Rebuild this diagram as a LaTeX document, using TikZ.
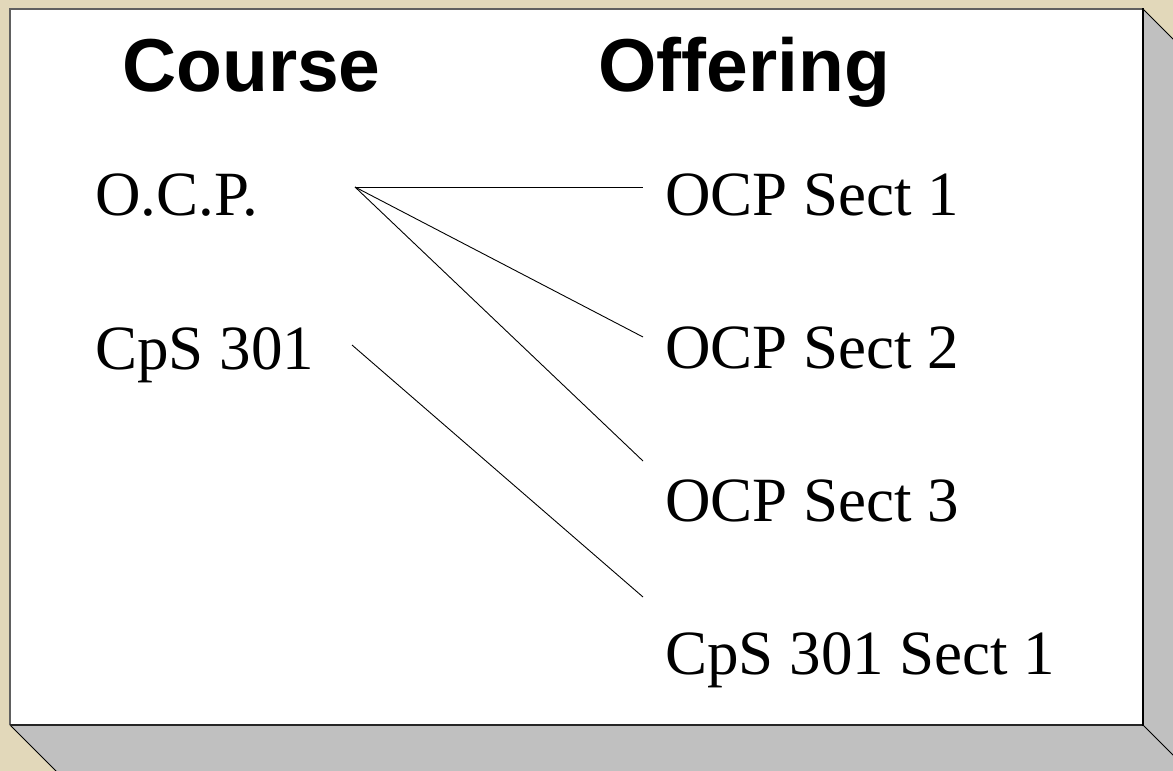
\documentclass[tikz,border=0pt]{standalone}
\usepackage{fontspec}
\setmainfont{Liberation Serif}
\newfontfamily\headfont{Liberation Sans}
\definecolor{paper}{RGB}{226,216,186}
\definecolor{sideface}{RGB}{192,192,192}
\definecolor{rimgrey}{RGB}{96,96,96}
\begin{document}
\begin{tikzpicture}[x=1pt,y=-1pt,
    heading/.style={anchor=base west,inner sep=0pt,font=\headfont\bfseries\fontsize{75}{80}\selectfont},
    item/.style={anchor=base west,inner sep=0pt,font=\fontsize{63}{70}\selectfont},
    link/.style={draw=black,line width=0.9pt}]
  \useasboundingbox (0,0) rectangle (1173,771);
  \clip (0,0) rectangle (1173,771);
  % backdrop
  \fill[paper] (0,0) rectangle (1173,771);
  % raised slab: side faces
  \fill[sideface] (1143,9) -- (1203,69) -- (1203,785) -- (70,785) -- (10,725) -- (1143,725) -- cycle;
  \draw[black,line width=1pt] (1143,9) -- (1203,69);
  \draw[black,line width=1pt] (10,725) -- (70,785);
  \draw[black,line width=1pt] (1143,725) -- (1203,785);
  % raised slab: front face
  \fill[white] (10,9) rectangle (1143,725);
  \draw[rimgrey,line width=2pt] (10,725) -- (10,9) -- (1143,9);
  \draw[black!85,line width=2pt] (10,725) -- (1143,725);
  \draw[black,line width=1.5pt] (1143,8) -- (1143,726);

  % column headings
  \node[heading] (hcourse) at (122,91) {Course};
  \node[heading] (hoffer) at (598,91) {Offering};

  % courses
  \node[item] (ocp) at (95,215) {O.C.P.};
  \node[item] (cps) at (95,369) {CpS 301};

  % offerings
  \node[item] (s1) at (665,215) {OCP Sect 1};
  \node[item] (s2) at (665,368) {OCP Sect 2};
  \node[item] (s3) at (665,521) {OCP Sect 3};
  \node[item] (c1) at (665,674) {CpS 301 Sect 1};

  % connector end points
  \coordinate (ocpR) at (355,187);
  \coordinate (cpsR) at (352,345);
  \coordinate (s1L) at (643,187);
  \coordinate (s2L) at (643,337);
  \coordinate (s3L) at (643,461);
  \coordinate (c1L) at (643,597);

  \draw[link] (ocpR) -- (s1L);
  \draw[link] (ocpR) -- (s2L);
  \draw[link] (ocpR) -- (s3L);
  \draw[link] (cpsR) -- (c1L);
\end{tikzpicture}
\end{document}
